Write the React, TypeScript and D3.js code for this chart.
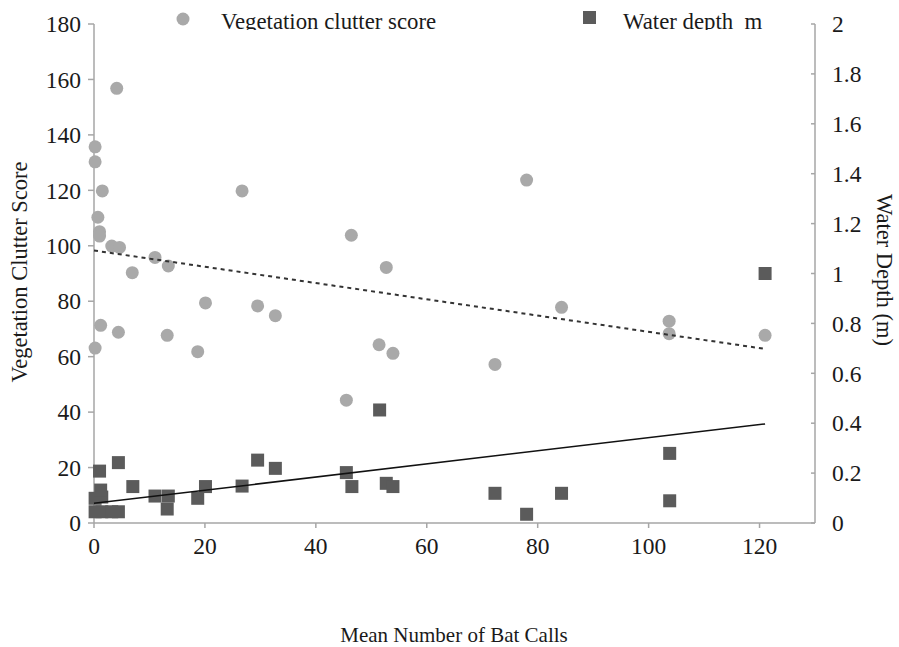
import React from 'react';
import { scaleLinear, line } from 'd3';

// values
const vegCalls = [0.2, 0.2, 0.2, 0.7, 1.0, 1.0, 1.2, 1.5, 3.2, 4.1, 4.4, 4.6, 6.9, 11.0, 13.2, 13.4, 18.7, 20.1, 26.7, 29.5, 32.7, 45.5, 46.4, 51.4, 52.7, 53.9, 72.3, 78.0, 84.3, 103.7, 103.7, 121.0];
const vegScore = [135.7, 130.3, 63.1, 110.3, 105.1, 103.5, 71.3, 119.8, 99.9, 156.8, 68.8, 99.4, 90.3, 95.8, 67.7, 92.7, 61.8, 79.4, 119.8, 78.3, 74.8, 44.3, 103.8, 64.3, 92.2, 61.2, 57.2, 123.7, 77.8, 72.8, 68.3, 67.7];

const waterCalls = [0.2, 1.4, 3.2, 4.4, 0.2, 1.4, 1.2, 1.0, 4.4, 7.0, 11.0, 13.4, 13.2, 18.7, 20.1, 26.7, 29.5, 32.7, 45.5, 46.5, 51.5, 52.7, 53.9, 72.3, 78.0, 84.3, 103.8, 103.8, 121.0];
const waterDepth = [0.045, 0.045, 0.045, 0.045, 0.099, 0.104, 0.132, 0.208, 0.242, 0.146, 0.108, 0.108, 0.056, 0.099, 0.146, 0.148, 0.252, 0.219, 0.202, 0.146, 0.453, 0.159, 0.146, 0.119, 0.035, 0.119, 0.279, 0.089, 1.0];

// trend line ends at x = 0 and x = 121
const trendCalls = [0, 121];
const vegTrend = [98.3, 62.8];
const waterTrend = [0.079, 0.397];

const xTicks = [0, 20, 40, 60, 80, 100, 120];
const leftTicks = [0, 20, 40, 60, 80, 100, 120, 140, 160, 180];
const rightTicks = [0, 0.2, 0.4, 0.6, 0.8, 1, 1.2, 1.4, 1.6, 1.8, 2];

const width = 899;
const height = 647;
const left = 94, right = 815, top = 24, bottom = 523;
const font = '"Liberation Serif", "Times New Roman", serif';
const axisColor = '#a6a6a6';
const textColor = '#1a1a1a';
const circleColor = '#a9a9a9';
const squareColor = '#5b5b5b';

const App = () => {
  const x = scaleLinear().domain([0, 130]).range([left, right]);
  const yL = scaleLinear().domain([0, 180]).range([bottom, top]);
  const yR = scaleLinear().domain([0, 2]).range([bottom, top]);

  const vegLine = line<number>().x((d, i) => x(trendCalls[i])).y(d => yL(d));
  const waterLine = line<number>().x((d, i) => x(trendCalls[i])).y(d => yR(d));
  const sq = 13;

  return (
    <svg width={width} height={height} style={{ position: 'absolute', left: 0, top: 0, background: '#fff' }}
      fontFamily={font}>
      <defs>
        <clipPath id="legendClip">
          <rect x={0} y={0} width={width} height={30} />
        </clipPath>
      </defs>

      {/* axes */}
      <g stroke={axisColor} strokeWidth={1.5} fill="none">
        <line x1={left} x2={left} y1={top} y2={bottom} />
        <line x1={right} x2={right} y1={top} y2={bottom} />
        <line x1={left} x2={right} y1={bottom} y2={bottom} />
        {leftTicks.map(t => (
          <line key={'l' + t} x1={left - 6} x2={left} y1={yL(t)} y2={yL(t)} />
        ))}
        {rightTicks.map(t => (
          <line key={'r' + t} x1={right - 4} x2={right} y1={yR(t)} y2={yR(t)} />
        ))}
        {xTicks.map(t => (
          <line key={'x' + t} x1={x(t)} x2={x(t)} y1={bottom} y2={bottom + 5} />
        ))}
      </g>

      {/* tick labels */}
      <g fill={textColor} fontSize={23.5}>
        {leftTicks.map(t => (
          <text key={t} x={81} y={yL(t)} dy=".35em" textAnchor="end">{t}</text>
        ))}
        {rightTicks.map(t => (
          <text key={t} x={832} y={yR(t)} dy=".35em">{t}</text>
        ))}
        {xTicks.map(t => (
          <text key={t} x={x(t)} y={554} textAnchor="middle">{t}</text>
        ))}
      </g>

      {/* axis titles */}
      <g fill={textColor} fontSize={22.5}>
        <text transform={`translate(27, 272) rotate(-90)`} textAnchor="middle">Vegetation Clutter Score</text>
        <text transform={`translate(877, 270) rotate(90)`} textAnchor="middle">Water Depth (m)</text>
      </g>
      <text x={454} y={642} textAnchor="middle" fill={textColor} fontSize={21}>Mean Number of Bat Calls</text>

      {/* points */}
      {vegCalls.map((c, i) => (
        <circle key={'v' + i} cx={x(c)} cy={yL(vegScore[i])} r={6.5} fill={circleColor} />
      ))}
      {waterCalls.map((c, i) => (
        <rect key={'w' + i} x={x(c) - sq / 2} y={yR(waterDepth[i]) - sq / 2} width={sq} height={sq} fill={squareColor} />
      ))}

      {/* trend lines */}
      <path d={vegLine(vegTrend) || ''} stroke="#333" strokeWidth={2} strokeDasharray="4,4" fill="none" />
      <path d={waterLine(waterTrend) || ''} stroke="#111" strokeWidth={1.5} fill="none" />

      {/* legend */}
      <g clipPath="url(#legendClip)" fill={textColor} fontSize={22.8}>
        <circle cx={183} cy={19} r={6.5} fill={circleColor} />
        <text x={221} y={29}>Vegetation clutter score</text>
        <rect x={583} y={11} width={sq} height={sq} fill={squareColor} />
        <text x={623} y={29} style={{ whiteSpace: 'pre' }}>Water depth  m</text>
      </g>
    </svg>
  );
};

export default App;
